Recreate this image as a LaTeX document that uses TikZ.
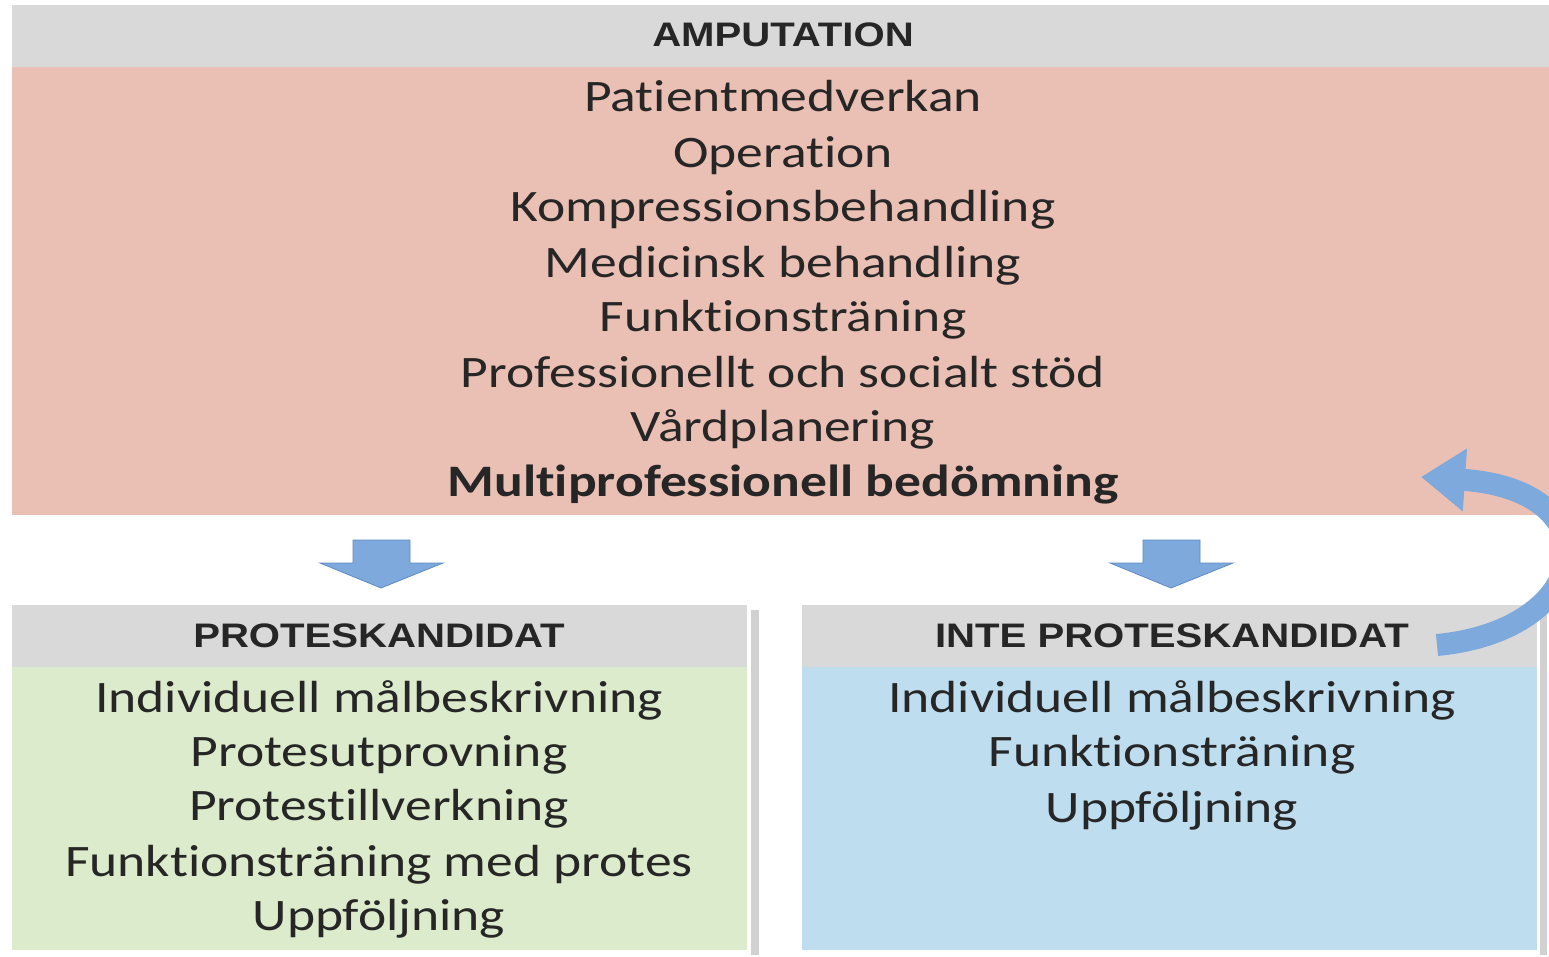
\documentclass[tikz,border=0pt]{standalone}
\usepackage{fontspec}
\setmainfont{Carlito}[FakeStretch=1.19, Ligatures=NoCommon]
\newfontfamily\headf{Liberation Sans}[FakeStretch=1.18]
\usetikzlibrary{arrows.meta}
\definecolor{hdrgray}{HTML}{D9D9D9}
\definecolor{pinkbg}{HTML}{EBC0B4}
\definecolor{greenbg}{HTML}{DDEBCD}
\definecolor{bluebg}{HTML}{BEDEF0}
\definecolor{arrowblue}{HTML}{7EA9DC}
\definecolor{arrowedge}{HTML}{5F8BC4}
\definecolor{txt}{HTML}{262626}
\begin{document}
\begin{tikzpicture}[x=0.5pt,y=-0.5pt,
  hdr/.style={font=\headf\bfseries\fontsize{17}{20}\selectfont, text=txt, anchor=base, inner sep=0},
  body/.style={font=\fontsize{22.5}{27}\selectfont, text=txt, anchor=base, inner sep=0},
  bodyb/.style={body, font=\bfseries\fontsize{22.5}{27}\selectfont},
  downarrow/.style={fill=arrowblue, draw=arrowedge, line width=0.4pt},
  loopar/.style={draw=arrowblue, line width=11pt, -{Triangle[length=22pt,width=30pt]}}]
\useasboundingbox (0,0) rectangle (1549,957);
\begin{scope}
\clip (0,0) rectangle (1549,957);
\fill[white] (0,0) rectangle (1549,957);
% top box
\fill[hdrgray] (12,5) rectangle (1549,67);
\fill[pinkbg] (12,67) rectangle (1549,515);
% bottom boxes shadows
\fill[black!18] (751,610) rectangle (759,955);
\fill[black!18] (1540,610) rectangle (1547,955);
\fill[hdrgray] (12,605) rectangle (747,667);
\fill[greenbg] (12,667) rectangle (747,950);
\fill[hdrgray] (802,605) rectangle (1537,667);
\fill[bluebg] (802,667) rectangle (1537,950);
% down arrows
\draw[downarrow] (353,540) -- (410,540) -- (410,563) -- (443,563) -- (381,588) -- (320,563) -- (353,563) -- cycle;
\draw[downarrow] (1143,540) -- (1200,540) -- (1200,563) -- (1233,563) -- (1171,588) -- (1110,563) -- (1143,563) -- cycle;
% texts
\node[hdr] (t0) at (783,47) {AMPUTATION};
\node[body] (t1) at (783,112) {Patientmedverkan};
\node[body] (t2) at (783,168) {Operation};
\node[body] (t3) at (783,222) {Kompressionsbehandling};
\node[body] (t4) at (783,278) {Medicinsk behandling};
\node[body] (t5) at (783,332) {Funktionsträning};
\node[body] (t6) at (783,388) {Professionellt och socialt stöd};
\node[body] (t7) at (783,442) {Vårdplanering};
\node[bodyb] (t8) at (783,496) {Multiprofessionell bedömning};
\node[hdr] (l0) at (379,647) {PROTESKANDIDAT};
\node[body] (l1) at (379,712) {Individuell målbeskrivning};
\node[body] (l2) at (379,766) {Protesutprovning};
\node[body] (l3) at (379,820) {Protestillverkning};
\node[body] (l4) at (379,876) {Funktionsträning med protes};
\node[body] (l5) at (379,930) {Uppföljning};
\node[hdr] (r0) at (1172,647) {INTE PROTESKANDIDAT};
\node[body] (r1) at (1172,712) {Individuell målbeskrivning};
\node[body] (r2) at (1172,766) {Funktionsträning};
\node[body] (r3) at (1172,822) {Uppföljning};
% loop arrow
\coordinate (ls) at (1437,645);
\coordinate (le) at (1421,477);
\draw[loopar] (ls) .. controls (1595,630) and (1615,490) .. (le);
\end{scope}
\end{tikzpicture}
\end{document}
